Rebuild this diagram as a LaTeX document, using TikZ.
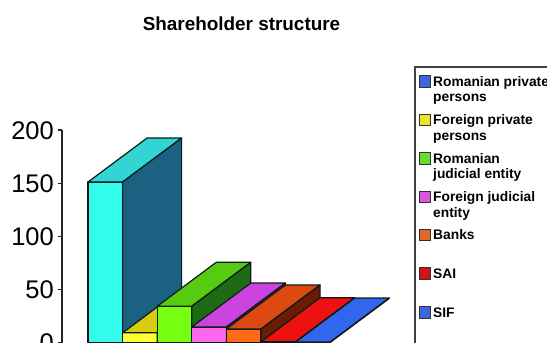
\documentclass[tikz,border=0pt]{standalone}
\usepackage{fontspec}
\setmainfont{Liberation Sans}
\definecolor{cyF}{HTML}{33FCEA}
\definecolor{cyT}{HTML}{33D4D4}
\definecolor{cyS}{HTML}{1B6282}
\definecolor{yeF}{HTML}{FFFF33}
\definecolor{yeT}{HTML}{D8CC12}
\definecolor{yeS}{HTML}{6B6610}
\definecolor{grF}{HTML}{77FF11}
\definecolor{grT}{HTML}{55CC11}
\definecolor{grS}{HTML}{1F6A14}
\definecolor{maF}{HTML}{FF66EE}
\definecolor{maT}{HTML}{CC44DD}
\definecolor{maS}{HTML}{722272}
\definecolor{orF}{HTML}{FF6A14}
\definecolor{orT}{HTML}{DD4A11}
\definecolor{orS}{HTML}{6B1C05}
\definecolor{reF}{HTML}{FF2020}
\definecolor{reT}{HTML}{EE1111}
\definecolor{reS}{HTML}{6B0808}
\definecolor{blF}{HTML}{3A6CFF}
\definecolor{blT}{HTML}{3366EE}
\definecolor{blS}{HTML}{142A6B}
\definecolor{mkBl}{HTML}{3A66DD}
\definecolor{mkYe}{HTML}{E8E622}
\definecolor{mkGr}{HTML}{66DD33}
\definecolor{mkMa}{HTML}{DD55DD}
\definecolor{mkOr}{HTML}{E06629}
\definecolor{mkRe}{HTML}{D41111}
\definecolor{edgeC}{HTML}{0D1A1A}
\begin{document}
\begin{tikzpicture}[x=1pt,y=-1pt,
  edge/.style={draw=edgeC, line width=1.2pt, line join=round},
  ticklabel/.style={anchor=base east, inner sep=0pt, font=\fontsize{25.5}{28}\selectfont},
  legtext/.style={anchor=base west, inner sep=0pt, font=\fontsize{13.8}{15}\selectfont\bfseries},
  legmark/.style={draw=black!80, line width=0.8pt},
  axisline/.style={draw=black!85, line width=1.1pt}]
\useasboundingbox (0,0) rectangle (547,343);
\clip (0,0) rectangle (547,343);
\fill[white] (0,0) rectangle (547,343);
\def\yz{342.4}\def\sc{1.062}\def\bw{34.6}\def\ddx{59}\def\ddy{44}
\newcommand\drawbar[5]{%
  \pgfmathsetmacro\hh{\yz-#2*\sc}%
  \path[edge,fill=#3] (#1,\yz) rectangle ({#1+\bw},\hh);
  \path[edge,fill=#4] (#1,\hh) -- ({#1+\bw},\hh) -- ({#1+\bw+\ddx},{\hh-\ddy}) -- ({#1+\ddx},{\hh-\ddy}) -- cycle;
  \path[edge,fill=#5] ({#1+\bw},\yz) -- ({#1+\bw},\hh) -- ({#1+\bw+\ddx},{\hh-\ddy}) -- ({#1+\bw+\ddx},{\yz-\ddy}) -- cycle;
}
% title
\node[anchor=base, inner sep=0pt, font=\fontsize{18.9}{22}\selectfont\bfseries] (title) at (241.5,30) {Shareholder structure};
% axis
\coordinate (axtop) at (62,130);
\coordinate (axbot) at (62,350);
\draw[axisline] (axtop) -- (axbot);
\foreach \v/\yy in {200/130,150/183.1,100/236.2,50/289.3,0/342.4}{
  \draw[axisline] (57.5,\yy) -- (62,\yy);
  \node[ticklabel] at (54,{\yy+9}) {\v};
}
% bars
\drawbar{88}{151}{cyF}{cyT}{cyS}
\drawbar{122.6}{9}{yeF}{yeT}{yeS}
\drawbar{157.2}{34}{grF}{grT}{grS}
\drawbar{191.8}{14.5}{maF}{maT}{maS}
\drawbar{226.4}{12.6}{orF}{orT}{orS}
\drawbar{261}{0.6}{reF}{reT}{reS}
\drawbar{295.6}{0.3}{blF}{blT}{blS}
% legend
\draw[draw=black!75, line width=1.2pt] (415,67) rectangle (600,400);
\foreach \c/\yy in {mkBl/86, mkYe/124.5, mkGr/163, mkMa/201.5, mkOr/239.5, mkRe/278, mkBl/317}{
  \path[legmark, fill=\c] (419.5,{\yy-10.5}) rectangle (430.5,{\yy+1});
}
\node[legtext] (l1) at (433,86) {Romanian private};
\node[legtext] (l1b) at (433,101.5) {persons};
\node[legtext] (l2) at (433,124.5) {Foreign private};
\node[legtext] (l2b) at (433,140) {persons};
\node[legtext] (l3) at (433,163) {Romanian};
\node[legtext] (l3b) at (433,178.5) {judicial entity};
\node[legtext] (l4) at (433,201.5) {Foreign judicial};
\node[legtext] (l4b) at (433,217) {entity};
\node[legtext] (l5) at (433,239.5) {Banks};
\node[legtext] (l6) at (433,278) {SAI};
\node[legtext] (l7) at (433,317) {SIF};
\end{tikzpicture}
\end{document}
